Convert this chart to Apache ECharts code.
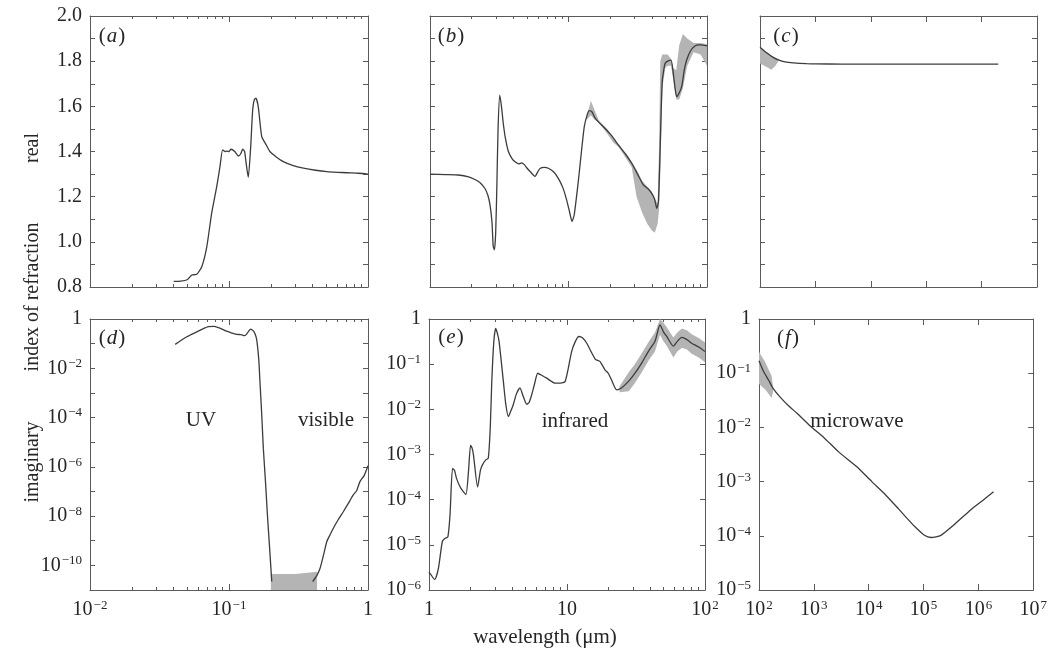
<!DOCTYPE html>
<html>
<head>
<meta charset="utf-8">
<script src="https://cdn.jsdelivr.net/npm/echarts@6/dist/echarts.min.js"></script>
<style>
  html, body { margin: 0; padding: 0; background: #fff; }
  #chart { width: 1050px; height: 651px; }
</style>
</head>
<body>
<div id="chart"></div>
<script>
// (a) real part, UV
const aWl = [0.040, 0.045, 0.050, 0.054, 0.0586, 0.0637, 0.0692, 0.075, 0.0816, 0.0861, 0.090, 0.0935, 0.0962, 0.100, 0.1033, 0.110, 0.1167, 0.1215, 0.1254, 0.1295, 0.1324, 0.1376, 0.1432, 0.148, 0.152, 0.156, 0.1624, 0.172, 0.185, 0.197, 0.22, 0.246, 0.29, 0.343, 0.42, 0.505, 0.60, 0.703, 0.82, 0.95, 1.0];
const aRe = [0.825, 0.826, 0.832, 0.853, 0.856, 0.89, 0.978, 1.126, 1.244, 1.333, 1.407, 1.40, 1.402, 1.40, 1.41, 1.40, 1.38, 1.39, 1.41, 1.40, 1.355, 1.286, 1.42, 1.584, 1.63, 1.636, 1.598, 1.466, 1.43, 1.40, 1.375, 1.355, 1.337, 1.326, 1.317, 1.311, 1.308, 1.306, 1.304, 1.302, 1.30];

// (b) real part, infrared
const bWl = [1.0, 1.3, 1.6, 1.9, 2.11, 2.3, 2.5, 2.62, 2.71, 2.8, 2.86, 2.92, 2.98, 3.04, 3.1, 3.19, 3.28, 3.38, 3.5, 3.68, 3.9, 4.11, 4.4, 4.59, 4.8, 4.99, 5.3, 5.73, 6.0, 6.22, 6.7, 7.15, 7.8, 8.44, 9.1, 9.7, 10.2, 10.6, 11.0, 11.8, 12.4, 13.0, 13.6, 14.1, 14.8, 15.5, 16.5, 18.3, 20.5, 22.9, 25.7, 28.6, 31.5, 34.7, 37.5, 39.9, 41.8, 43.4, 44.6, 45.8, 46.8, 47.6, 48.7, 49.8, 52.0, 55.0, 57.1, 58.8, 60.4, 62.5, 65.6, 68.5, 71.3, 76.0, 81.8, 88.0, 94.0, 100];
const bRe = [1.300, 1.298, 1.296, 1.288, 1.276, 1.262, 1.235, 1.205, 1.165, 1.09, 0.98, 0.965, 1.04, 1.25, 1.50, 1.65, 1.60, 1.525, 1.46, 1.40, 1.37, 1.355, 1.345, 1.350, 1.342, 1.328, 1.31, 1.29, 1.31, 1.325, 1.33, 1.326, 1.31, 1.281, 1.24, 1.185, 1.13, 1.09, 1.12, 1.274, 1.40, 1.51, 1.56, 1.581, 1.575, 1.55, 1.53, 1.503, 1.47, 1.429, 1.39, 1.348, 1.30, 1.252, 1.235, 1.215, 1.19, 1.148, 1.18, 1.392, 1.60, 1.716, 1.76, 1.79, 1.80, 1.805, 1.746, 1.68, 1.643, 1.655, 1.687, 1.76, 1.805, 1.845, 1.867, 1.872, 1.871, 1.868];
const bBandWl = [13.5, 14.5, 15.5, 16.5, 19, 21, 23, 26, 28.6, 31, 34, 37, 40, 42, 44, 45, 46, 47.6, 50, 52, 55, 57, 60, 63, 67, 72, 80, 90, 100];
const bBandLo = [1.54, 1.56, 1.54, 1.53, 1.48, 1.44, 1.42, 1.37, 1.33, 1.20, 1.13, 1.08, 1.05, 1.04, 1.08, 1.14, 1.30, 1.68, 1.77, 1.78, 1.78, 1.72, 1.63, 1.63, 1.68, 1.78, 1.84, 1.83, 1.78];
const bBandHi = [1.55, 1.625, 1.58, 1.54, 1.50, 1.46, 1.43, 1.39, 1.355, 1.32, 1.27, 1.245, 1.22, 1.19, 1.17, 1.40, 1.80, 1.83, 1.83, 1.83, 1.81, 1.77, 1.76, 1.87, 1.92, 1.90, 1.88, 1.88, 1.875];

// (c) real part, microwave
const cWl = [100, 130, 170, 220, 300, 450, 700, 1000, 3000, 1e4, 1e5, 1e6, 2e6];
const cRe = [1.862, 1.838, 1.818, 1.805, 1.796, 1.791, 1.789, 1.788, 1.787, 1.787, 1.787, 1.787, 1.787];
const cBandWl = [100, 130, 160, 190, 215];
const cBandLo = [1.79, 1.775, 1.762, 1.78, 1.80];
const cBandHi = [1.865, 1.84, 1.824, 1.812, 1.805];

// (d) imaginary part, UV and visible
const dUvWl = [0.041, 0.0497, 0.0586, 0.065, 0.071, 0.0775, 0.0838, 0.090, 0.096, 0.105, 0.1135, 0.122, 0.130, 0.135, 0.143, 0.151, 0.157, 0.160, 0.164, 0.167, 0.172, 0.1766, 0.183, 0.189, 0.196, 0.203];
const dUvIm = [9.3e-2, 1.9e-1, 3.0e-1, 4.0e-1, 4.9e-1, 5.0e-1, 4.5e-1, 3.8e-1, 3.2e-1, 2.7e-1, 2.4e-1, 2.3e-1, 2.1e-1, 2.6e-1, 3.9e-1, 3.1e-1, 1.8e-1, 8.9e-2, 2.0e-2, 2.9e-3, 1.3e-4, 5.6e-6, 2.5e-7, 1.1e-8, 5.0e-10, 2.2e-11];
const dVisWl = [0.40, 0.43, 0.452, 0.48, 0.505, 0.535, 0.563, 0.61, 0.664, 0.72, 0.784, 0.83, 0.875, 0.94, 1.0];
const dVisIm = [2.2e-11, 4.0e-11, 7.6e-11, 2.8e-10, 9.1e-10, 1.8e-9, 3.2e-9, 7.1e-9, 1.5e-8, 3.2e-8, 7.2e-8, 1.1e-7, 2.5e-7, 4.5e-7, 1.1e-6];
const dBandWl = [0.20, 0.30, 0.43];
const dBandLo = [1e-11, 1e-11, 1e-11];
const dBandHi = [4.5e-11, 4.5e-11, 5.5e-11];

// (e) imaginary part, infrared
const eWl = [1.0, 1.02, 1.10, 1.17, 1.25, 1.31, 1.37, 1.42, 1.48, 1.53, 1.58, 1.70, 1.85, 1.93, 2.0, 2.05, 2.10, 2.25, 2.36, 2.44, 2.58, 2.69, 2.78, 2.85, 2.95, 3.04, 3.12, 3.22, 3.46, 3.6, 3.76, 3.9, 4.09, 4.3, 4.56, 4.8, 5.1, 5.3, 5.55, 5.8, 6.14, 6.6, 7.13, 8.19, 9.0, 9.68, 10.2, 10.8, 11.5, 12.2, 13.0, 13.9, 16.0, 17.3, 18.9, 19.9, 21.0, 22.9, 24.9, 28.0, 31.1, 35.0, 38.8, 43.4, 47.2, 50.0, 52.8, 59.0, 63.0, 67.8, 74.0, 80.0, 90.0, 100];
const eIm = [2.5e-6, 2.3e-6, 1.7e-6, 3.0e-6, 1.2e-5, 1.4e-5, 1.5e-5, 4.6e-5, 4.9e-4, 4.5e-4, 3.0e-4, 1.8e-4, 1.3e-4, 4.0e-4, 1.6e-3, 1.4e-3, 9.8e-4, 1.9e-4, 4.5e-4, 5.9e-4, 7.6e-4, 8.3e-4, 4.0e-3, 4.1e-2, 0.32, 0.62, 0.50, 0.32, 4.1e-2, 1.3e-2, 6.9e-3, 8.9e-3, 1.3e-2, 2.2e-2, 3.0e-2, 2.0e-2, 1.3e-2, 1.4e-2, 2.1e-2, 3.5e-2, 6.3e-2, 5.6e-2, 4.9e-2, 3.8e-2, 3.8e-2, 4.1e-2, 7.9e-2, 0.19, 0.32, 0.41, 0.38, 0.29, 0.13, 0.115, 7.4e-2, 6.3e-2, 4.5e-2, 2.7e-2, 3.0e-2, 4.2e-2, 6.3e-2, 0.11, 0.19, 0.32, 0.74, 0.52, 0.41, 0.25, 0.32, 0.39, 0.35, 0.29, 0.24, 0.19];
const eBandWl = [24, 28, 31, 35, 39, 43.4, 47.2, 50, 53, 59, 63, 68, 74, 80, 90, 100];
const eBandLo = [2.4e-2, 2.5e-2, 3.8e-2, 6.8e-2, 0.12, 0.19, 0.45, 0.32, 0.25, 0.14, 0.19, 0.23, 0.21, 0.17, 0.14, 0.11];
const eBandHi = [3.2e-2, 6.6e-2, 0.10, 0.18, 0.31, 0.50, 1.0, 0.83, 0.65, 0.39, 0.50, 0.62, 0.56, 0.46, 0.38, 0.30];

// (f) imaginary part, microwave
const fWl = [100, 120, 150, 182, 250, 361, 500, 826, 1500, 2860, 6000, 11400, 20000, 34400, 50000, 68500, 1.04e5, 1.37e5, 2.07e5, 3.6e5, 7.2e5, 1.2e6, 1.89e6];
const fIm = [0.17, 0.11, 7.4e-2, 5.2e-2, 3.5e-2, 2.4e-2, 1.8e-2, 1.1e-2, 6.6e-3, 3.5e-3, 1.9e-3, 1.0e-3, 5.8e-4, 3.2e-4, 2.1e-4, 1.5e-4, 1.02e-4, 9.3e-5, 1.02e-4, 1.6e-4, 3.0e-4, 4.5e-4, 6.5e-4];
const fBandWl = [100, 130, 170, 180];
const fBandLo = [6.3e-2, 5.0e-2, 3.5e-2, 4.5e-2];
const fBandHi = [0.25, 0.16, 8.9e-2, 5.6e-2];

const SERIF = '"Liberation Serif", "DejaVu Serif", serif';
const INK = '#262626';
const AXIS = '#5a5a5a';
const LINE = '#3c3c3c';
const BAND = '#b4b4b4';
const FS = 20;

const lg = Math.log10;
const ident = v => v;

// layout of the six panels
const panels = [
  { box: { left: 90, top: 16, width: 278, height: 271 }, x: [-2, 0], y: [0.8, 2.0], log: false, minor: true, xLab: false, yLab: true, tag: 'a' },
  { box: { left: 430, top: 16, width: 277, height: 271 }, x: [0, 2], y: [0.8, 2.0], log: false, minor: true, xLab: false, yLab: false, tag: 'b' },
  { box: { left: 760, top: 16, width: 277, height: 271 }, x: [2, 7], y: [0.8, 2.0], log: false, minor: false, xLab: false, yLab: false, tag: 'c' },
  { box: { left: 90, top: 319, width: 278, height: 271 }, x: [-2, 0], y: [-11, 0], log: true, minor: true, xLab: true, yLab: true, even: true, tag: 'd' },
  { box: { left: 429, top: 319, width: 276, height: 271 }, x: [0, 2], y: [-6, 0], log: true, minor: true, xLab: true, yLab: true, tag: 'e' },
  { box: { left: 759, top: 319, width: 278, height: 271 }, x: [2, 7], y: [-5, 0], log: true, minor: false, xLab: true, yLab: true, tag: 'f' }
];

const pow = e => e === 0 ? '1' : e === 1 ? '10' : '10{sup|' + (e < 0 ? '\u2212' + (-e) : e) + '}';
const rich = { sup: { fontSize: 13, fontFamily: SERIF, color: INK, lineHeight: 13, verticalAlign: 'top', padding: [0, 0, 8, 1] } };

function minorTicks(lo, hi) {
  const out = [];
  for (let e = lo; e < hi; e++) for (let m = 2; m <= 9; m++) out.push(e + lg(m));
  return out;
}

const xAxes = [], yAxes = [], grids = [];
const mainX = [], mainY = [];
panels.forEach((p, i) => {
  grids.push(Object.assign({ containLabel: false }, p.box));
  const line = { onZero: false, lineStyle: { color: AXIS, width: 1 } };
  const lab = {
    show: p.xLab, margin: 9, color: INK, fontFamily: SERIF, fontSize: FS, lineHeight: 22,
    formatter: v => pow(Math.round(v)), rich: rich, showMinLabel: true, showMaxLabel: true
  };
  mainX.push(xAxes.length);
  ['bottom', 'top'].forEach((pos, k) => {
    xAxes.push({
      gridIndex: i, type: 'value', position: pos, min: p.x[0], max: p.x[1], interval: 1,
      axisLine: line, splitLine: { show: false },
      axisTick: { inside: true, length: 6, lineStyle: { color: AXIS } },
      axisLabel: k === 0 ? lab : { show: false }
    });
  });
  if (p.minor) {
    ['bottom', 'top'].forEach(pos => {
      xAxes.push({
        gridIndex: i, type: 'value', position: pos, min: p.x[0], max: p.x[1],
        axisLine: { show: false, onZero: false }, splitLine: { show: false },
        axisTick: { inside: true, length: 3, lineStyle: { color: AXIS }, customValues: minorTicks(p.x[0], p.x[1]) },
        axisLabel: { show: false }
      });
    });
  }
  const yFmt = p.log
    ? v => { const e = Math.round(v); return (!p.even || e % 2 === 0) ? pow(e) : ''; }
    : v => (Math.round(v * 10) % 2 === 0 ? v.toFixed(1) : '');
  mainY.push(yAxes.length);
  ['left', 'right'].forEach((pos, k) => {
    yAxes.push({
      gridIndex: i, type: 'value', position: pos, min: p.y[0], max: p.y[1], interval: p.log ? 1 : 0.1,
      axisLine: line, splitLine: { show: false },
      axisTick: { inside: true, length: 5, lineStyle: { color: AXIS } },
      axisLabel: (k === 0 && p.yLab) ? {
        show: true, margin: 8, color: INK, fontFamily: SERIF, fontSize: FS, lineHeight: 22,
        formatter: yFmt, rich: rich, showMinLabel: true, showMaxLabel: true
      } : { show: false }
    });
  });
});

function pts(xs, ys, fy) { return xs.map((x, i) => [lg(x), fy(ys[i])]); }

const series = [];
// shaded uncertainty band: one polygon, upper edge out and lower edge back
function addBand(pi, xs, lo, hi, fy) {
  const ring = pts(xs, hi, fy).concat(pts(xs, lo, fy).reverse());
  series.push({
    type: 'custom', xAxisIndex: mainX[pi], yAxisIndex: mainY[pi], data: ring,
    encode: { x: 0, y: 1 }, silent: true, clip: true, z: 1,
    renderItem: (params, api) => params.dataIndex !== 0 ? null : {
      type: 'polygon',
      shape: { points: ring.map(p => api.coord(p)) },
      style: { fill: BAND, stroke: null }
    }
  });
}
function addLine(pi, xs, ys, fy) {
  series.push({
    type: 'line', xAxisIndex: mainX[pi], yAxisIndex: mainY[pi], data: pts(xs, ys, fy),
    symbol: 'none', smooth: 0.2, silent: true, z: 3,
    lineStyle: { color: LINE, width: 1.3 }
  });
}

addBand(1, bBandWl, bBandLo, bBandHi, ident);
addBand(2, cBandWl, cBandLo, cBandHi, ident);
addBand(3, dBandWl, dBandLo, dBandHi, lg);
addBand(4, eBandWl, eBandLo, eBandHi, lg);
addBand(5, fBandWl, fBandLo, fBandHi, lg);
addLine(0, aWl, aRe, ident);
addLine(1, bWl, bRe, ident);
addLine(2, cWl, cRe, ident);
addLine(3, dUvWl, dUvIm, lg);
addLine(3, dVisWl, dVisIm, lg);
addLine(4, eWl, eIm, lg);
addLine(5, fWl, fIm, lg);

// panel tags and annotations
const tagPos = { a: [112, 36], b: [451, 36], c: [786, 36], d: [112, 338], e: [451, 337], f: [788, 338] };
const graphic = [];
Object.keys(tagPos).forEach(t => {
  graphic.push({
    type: 'text', x: tagPos[t][0], y: tagPos[t][1], silent: true,
    style: {
      text: '{p|(}{i|' + t + '}{p|)}', textAlign: 'center', textVerticalAlign: 'middle',
      rich: {
        p: { fontSize: FS + 1, fontFamily: SERIF, fill: INK },
        i: { fontSize: FS + 1, fontFamily: SERIF, fontStyle: 'italic', fill: INK, padding: [0, 1, 0, 1] }
      }
    }
  });
});
const notes = [
  ['UV', 201, 420], ['visible', 326, 420], ['infrared', 575, 421], ['microwave', 857, 421]
];
notes.forEach(n => graphic.push({
  type: 'text', x: n[1], y: n[2], silent: true,
  style: { text: n[0], fill: INK, font: FS + 1 + 'px ' + SERIF, textAlign: 'center', textVerticalAlign: 'middle' }
}));
const titles = [['real', 33, 148], ['index of refraction', 33, 297], ['imaginary', 33, 462]];
titles.forEach(n => graphic.push({
  type: 'text', x: n[1], y: n[2], rotation: Math.PI / 2, silent: true,
  style: { text: n[0], fill: INK, font: FS + 'px ' + SERIF, textAlign: 'center', textVerticalAlign: 'middle' }
}));
graphic.push({
  type: 'text', x: 545, y: 637, silent: true,
  style: { text: 'wavelength (\u03bcm)', fill: INK, font: FS + 1 + 'px ' + SERIF, textAlign: 'center', textVerticalAlign: 'middle' }
});

const chart = echarts.init(document.getElementById('chart'), null, { renderer: 'canvas' });
chart.setOption({
  animation: false,
  backgroundColor: '#fff',
  grid: grids,
  xAxis: xAxes,
  yAxis: yAxes,
  series: series,
  graphic: graphic
});
</script>
</body>
</html>
